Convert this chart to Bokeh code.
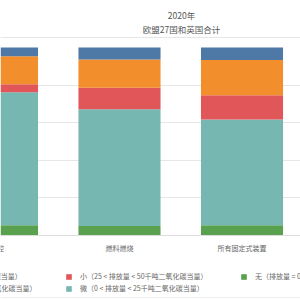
from bokeh.plotting import figure
from bokeh.models import Legend, LegendItem, Label, FixedTicker, Span, Range1d, ColumnDataSource
from bokeh.embed import file_html
from bokeh.resources import INLINE
from bokeh.core.properties import value

# ---- data ----
categories = ["管控", "燃料燃烧", "所有固定式装置"]
title_year = "2020年"
title_region = "欧盟27国和英国合计"
none_share = [5.5, 5.0, 5.5]
micro_share = [70.7, 62.2, 56.2]
small_share = [4.3, 11.4, 12.9]
medium_share = [14.9, 15.0, 18.8]
large_share = [4.6, 6.4, 6.6]
series_keys = ["none", "micro", "small", "medium", "large"]
series_labels = {
    "large": "大（排放量 > 100千吨二氧化碳当量）",
    "medium": "中（50 < 排放量 < 100千吨二氧化碳当量）",
    "small": "小（25 < 排放量 < 50千吨二氧化碳当量）",
    "micro": "微（0 < 排放量 < 25千吨二氧化碳当量）",
    "none": "无（排放量 = 0）",
}
colors = {"none": "#59a14f", "micro": "#76b7b2", "small": "#e15759",
          "medium": "#f28e2b", "large": "#4e79a7"}

FONT = "Noto Sans CJK SC"
TEXT = "#666666"
GRID = "#e6e6e6"

W, H = 300, 300
# layout: plot area occupies the whole canvas; value 0 at px 235, 100 at px 47
PX_ZERO, PX_FULL = 235, 47
ppu_y = (PX_ZERO - PX_FULL) / 100.0
ppu_x = 122.5
X0_PX = -3.5  # pixel of first category centre


def dx(px):
    return (px - X0_PX) / ppu_x


def dy(px):
    return (PX_ZERO - px) / ppu_y


src = ColumnDataSource(dict(x=list(range(len(categories))), none=none_share,
                            micro=micro_share, small=small_share,
                            medium=medium_share, large=large_share))
lab = ColumnDataSource(dict(x=list(range(len(categories))),
                            y=[dy(247)] * len(categories), text=categories))

p = figure(width=W, height=H, output_backend="svg", toolbar_location=None,
           x_range=Range1d(dx(0), dx(W)), y_range=Range1d(dy(H), dy(0)),
           min_border=0)
p.min_border_left = 0
p.min_border_right = 0
p.min_border_top = 0
p.min_border_bottom = 0
p.outline_line_color = None
p.background_fill_color = "white"
p.border_fill_color = "white"
p.xaxis.visible = False
p.yaxis.visible = False
p.xgrid.visible = False
p.ygrid.ticker = FixedTicker(ticks=[20, 40, 60, 80])
p.ygrid.grid_line_color = GRID

# separator under the title, baseline and bottom rule
p.add_layout(Span(location=dy(37), dimension="width", line_color=GRID, line_width=1))
p.add_layout(Span(location=0, dimension="width", line_color="#dddddd", line_width=1))
p.add_layout(Span(location=dy(297), dimension="width", line_color="#eeeeee", line_width=1))

rs = p.vbar_stack(series_keys, x="x", width=0.67, source=src,
                  color=[colors[k] for k in series_keys], line_width=0)

p.text(x="x", y="y", text="text", source=lab, text_align="center",
       text_baseline="middle", text_font=value(FONT), text_font_size="7px",
       text_color=TEXT)

for txt, py in [(title_year, 14), (title_region, 28)]:
    p.add_layout(Label(x=dx(181), y=dy(py), text=txt, text_align="center",
                       text_baseline="middle", text_font=FONT,
                       text_font_size="8.5px", text_color="#555555"))

rmap = dict(zip(series_keys, rs))
columns = [(-110, ["large", "medium"]), (65, ["small", "micro"]), (240, ["none", None])]
for xloc, keys in columns:
    items = [LegendItem(label=series_labels[k], renderers=[rmap[k]]) for k in keys if k]
    n_rows = len(keys)
    lg = Legend(items=items,
                location=(xloc, H - 270 - 12 * n_rows), orientation="vertical",
                padding=0, margin=0,
                spacing=0, label_height=12, glyph_height=7, glyph_width=7,
                label_standoff=8, label_text_font=FONT, label_text_font_size="7px",
                label_text_color=TEXT, border_line_color=None,
                background_fill_alpha=0)
    if len(items) < n_rows:
        lg.location = (xloc, H - 270 - 12 * len(items))
    p.add_layout(lg)

open("out.html", "w").write(file_html(p, INLINE))
